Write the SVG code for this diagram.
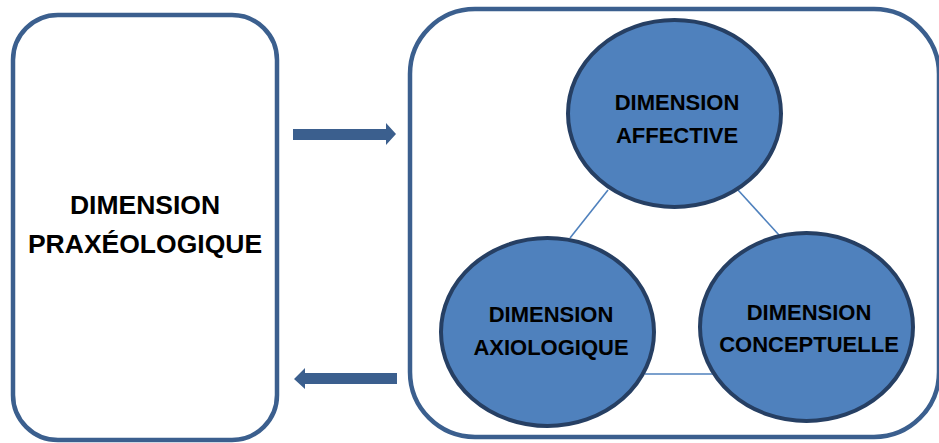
<svg xmlns="http://www.w3.org/2000/svg" width="939" height="443" viewBox="0 0 939 443">
<style>
.box{fill:#fff;stroke:#3B5F8E;stroke-width:4.5}
.ell{fill:#4F81BD;stroke:#263F63;stroke-width:4}
.lnk{stroke:#4F81BD;stroke-width:1.6;fill:none}
.arr{fill:#3B5F8E}
text{font-family:"Liberation Sans",Arial,sans-serif;font-weight:bold;fill:#000;text-anchor:middle}
.big{font-size:26.5px}
.sm{font-size:22px}
</style>
<rect width="939" height="443" fill="#fff"/>
<g id="praxeologique">
<rect class="box" x="13" y="15" width="264" height="425" rx="45"/>
<text class="big" x="145" y="214">DIMENSION</text>
<text class="big" x="145" y="253">PRAXÉOLOGIQUE</text>
</g>
<g id="container">
<rect class="box" x="410" y="9" width="529" height="428" rx="65"/>
</g>
<g id="connectors">
<line class="lnk" x1="608" y1="190" x2="570" y2="238"/>
<line class="lnk" x1="738" y1="190" x2="779" y2="235"/>
<line class="lnk" x1="645" y1="374" x2="713" y2="374"/>
<polygon class="arr" points="293,129 386,129 386,123 396,134 386,145 386,140 293,140"/>
<polygon class="arr" points="397,373 305,373 305,368 294,379 305,389 305,384 397,384"/>
</g>
<g id="affective">
<ellipse class="ell" cx="674.5" cy="113.5" rx="106.5" ry="93.5"/>
<text class="sm" x="677" y="110">DIMENSION</text>
<text class="sm" x="677" y="143">AFFECTIVE</text>
</g>
<g id="axiologique">
<ellipse class="ell" cx="547.5" cy="332" rx="106.5" ry="94"/>
<text class="sm" x="551" y="322">DIMENSION</text>
<text class="sm" x="551" y="355">AXIOLOGIQUE</text>
</g>
<g id="conceptuelle">
<ellipse class="ell" cx="806.5" cy="327" rx="106.5" ry="94"/>
<text class="sm" x="809" y="320">DIMENSION</text>
<text class="sm" x="809" y="352">CONCEPTUELLE</text>
</g>
</svg>
